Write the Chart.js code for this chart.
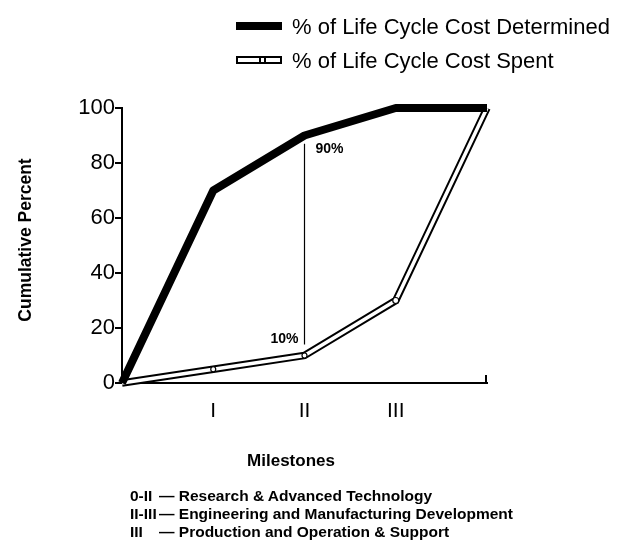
<!DOCTYPE html>
<html>
<head>
<meta charset="utf-8">
<script src="https://cdn.jsdelivr.net/npm/chart.js@4.4.0/dist/chart.umd.min.js"></script>
<style>
  body { margin: 0; background: #fff; }
  #wrap { position: relative; width: 617px; height: 552px; font-family: "Liberation Sans", Arial, sans-serif; }
  canvas { position: absolute; left: 0; top: 0; }
  .leg { position: absolute; left: 236px; font-size: 22px; color: #000; white-space: nowrap; }
  .leg i { display: inline-block; width: 46px; vertical-align: middle; margin-right: 10px; box-sizing: border-box; position: relative; top: -2px; }
  .leg b { position: absolute; left: 21px; top: -1px; width: 3px; height: 6px; border-left: 2px solid #000; border-right: 2px solid #000; }
  .notes { position: absolute; left: 130px; top: 487px; font-size: 15.5px; font-weight: bold; line-height: 18px; color: #000; white-space: nowrap; }
  .notes span { display: inline-block; width: 29px; }
</style>
</head>
<body>
<div id="wrap">
  <canvas id="graph_cost" width="617" height="552"></canvas>
  <div class="leg" style="top:14px"><i style="height:8px;background:#000"></i>% of Life Cycle Cost Determined</div>
  <div class="leg" style="top:48px"><i style="height:8px;border:2px solid #000;background:#fff"><b></b></i>% of Life Cycle Cost Spent</div>
  <div class="notes">
    <div><span>0-II</span>— Research &amp; Advanced Technology</div>
    <div><span>II-III</span>— Engineering and Manufacturing Development</div>
    <div><span>III</span>— Production and Operation &amp; Support</div>
  </div>
</div>
<script>
const milestones = [0, 1, 2, 3, 4];
const tickNames = {1: 'I', 2: 'II', 3: 'III'};
const determined = [0, 70, 90, 100, 100];
const spent = [0, 5, 10, 30, 100];
const gapLine = [14, 87]; // vertical marker at milestone II

const pts = arr => arr.map((v, i) => ({x: milestones[i], y: v}));

// extra drawings: axis titles, % labels and the end tick of the x axis
const extras = {
    id: 'extras',
    afterDatasetsDraw(chart) {
        const c = chart.ctx, x = chart.scales.x, y = chart.scales.y;
        c.save();
        c.fillStyle = '#000';
        c.font = 'bold 14px "Liberation Sans", Arial';
        c.textBaseline = 'middle';
        c.textAlign = 'left';
        c.fillText('90%', x.getPixelForValue(2) + 11, y.getPixelForValue(85));
        c.textAlign = 'right';
        c.fillText('10%', x.getPixelForValue(2) - 6, y.getPixelForValue(16));

        c.textAlign = 'center';
        c.font = 'bold 17px "Liberation Sans", Arial';
        c.fillText('Milestones', 291, 461);
        c.translate(26, 240);
        c.rotate(-Math.PI / 2);
        c.font = 'bold 17.5px "Liberation Sans", Arial';
        c.fillText('Cumulative Percent', 0, 0);
        c.restore();

        c.save();
        c.strokeStyle = '#000';
        c.lineWidth = 2;
        c.beginPath();
        c.moveTo(x.right - 1, y.bottom);
        c.lineTo(x.right - 1, y.bottom - 8);
        c.stroke();
        c.restore();
    }
};

const ctx = document.getElementById('graph_cost');
new Chart(ctx, {
    type: 'line',
    data: {
        datasets: [
        { // вертикальная линия 10% / 90%
            data: gapLine.map(v => ({x: 2, y: v})),
            borderColor: '#000',
            borderWidth: 1.2,
            pointRadius: 0,
            order: 0
        },
        { // determined
            data: pts(determined),
            borderColor: '#000',
            borderWidth: 8,
            borderJoinStyle: 'round',
            pointRadius: 0,
            order: 1
        },
        { // spent: белая середина
            data: pts(spent),
            borderColor: '#fff',
            borderWidth: 3.5,
            pointRadius: [0, 2.5, 2.5, 3, 0],
            pointBackgroundColor: '#fff',
            pointBorderColor: '#000',
            pointBorderWidth: 1.2,
            order: 2
        },
        { // spent: чёрный контур
            data: pts(spent),
            borderColor: '#000',
            borderWidth: 7.5,
            pointRadius: 0,
            order: 3
        }
        ]
    },
    options: {
        responsive: false,
        animation: false,
        clip: false,
        layout: { padding: { left: 0, right: 130, top: 108, bottom: 80 } },
        plugins: { legend: { display: false }, tooltip: { enabled: false } },
        scales: {
            x: {
                type: 'linear',
                min: 0, max: 4,
                afterBuildTicks: s => { s.ticks = [1, 2, 3].map(v => ({value: v})); },
                afterFit: s => { s.height = 89; },
                grid: { display: false, drawTicks: false },
                border: { display: true, color: '#000', width: 2 },
                ticks: {
                    color: '#000', padding: 16,
                    font: { family: '"Liberation Sans", Arial', size: 21 },
                    callback: v => tickNames[v] || ''
                }
            },
            y: {
                min: 0, max: 100,
                afterFit: s => { s.width = 122; },
                ticks: {
                    stepSize: 20, color: '#000', padding: 0,
                    font: { family: '"Liberation Sans", Arial', size: 22 }
                },
                grid: { drawOnChartArea: false, drawTicks: true, tickLength: 7, color: '#000', lineWidth: 2 },
                border: { display: true, color: '#000', width: 2 }
            }
        }
    },
    plugins: [extras]
});
</script>
</body>
</html>
